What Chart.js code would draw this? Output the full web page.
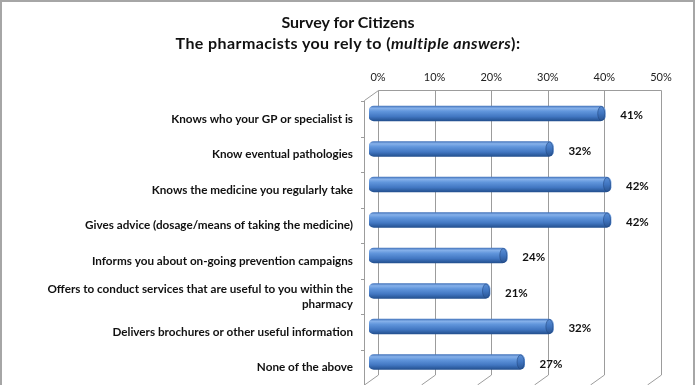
<!DOCTYPE html>
<html>
<head>
<meta charset="utf-8">
<script src="https://cdn.jsdelivr.net/npm/chart.js@4.4.0/dist/chart.umd.min.js"></script>
<style>
  html, body { margin: 0; padding: 0; background: #fff; }
  #wrap { position: relative; width: 696px; height: 385px; overflow: hidden; }
  #chart { position: absolute; left: 0; top: 0; }
  #title {
    position: absolute; left: 0; top: 12px; width: 696px; text-align: center;
    font-family: Lato, "Open Sans", sans-serif; font-weight: bold; font-size: 16px;
    line-height: 20.5px; color: #111;
  }
  #title .l2 { letter-spacing: 0.4px; }
</style>
</head>
<body>
<div id="wrap">
  <canvas id="chart" width="696" height="385"></canvas>
  <div id="title">Survey for Citizens<br><span class="l2">The pharmacists you rely to (<i>multiple answers</i>):</span></div>
</div>
<script>
// ---- data ----
const categories = [
  "Knows who your GP or specialist is",
  "Know eventual pathologies",
  "Knows the medicine you regularly take",
  "Gives advice (dosage/means of taking the medicine)",
  "Informs you about on-going prevention campaigns",
  ["Offers to conduct services that are useful to you within the", "pharmacy"],
  "Delivers brochures or other useful information",
  "None of the above"
];
const shares = [41, 32, 42, 42, 24, 21, 32, 27];
const xTicks = [0, 10, 20, 30, 40, 50];

// ---- style ----
const GRID = '#9c9c9c';
const DEPTH_X = 14, DEPTH_Y = 10;     // 3-D depth of back wall
const BAR_DX = -9, BAR_DY = -5.25, BAR_SCALE = 1.018;
const FONT = 'Lato, "Open Sans", sans-serif';

function barTransform(chart) {
  const a = chart.chartArea;
  return x => a.left + BAR_DX + (x - a.left) * BAR_SCALE;
}

const frame3d = {
  id: 'frame3d',
  beforeDatasetsDraw(chart) {
    const { ctx, chartArea: a, scales: { x, y } } = chart;
    ctx.save();
    ctx.strokeStyle = GRID;
    ctx.lineWidth = 1;
    const backTop = Math.round(a.top - DEPTH_Y - 1) + 0.5;
    const backBottom = a.bottom - DEPTH_Y;
    ctx.beginPath();
    xTicks.forEach(v => {
      const px = Math.round(x.getPixelForValue(v)) + 0.5;
      ctx.moveTo(px, backTop);
      ctx.lineTo(px, backBottom);
      ctx.lineTo(px - DEPTH_X, backBottom + DEPTH_Y);
    });
    const l = Math.round(x.getPixelForValue(xTicks[0])) + 0.5;
    const r = Math.round(x.getPixelForValue(xTicks[xTicks.length - 1])) + 0.5;
    ctx.moveTo(r, backTop);
    ctx.lineTo(l, backTop);
    const fx = l - DEPTH_X;
    ctx.lineTo(fx, backTop + DEPTH_Y);
    ctx.lineTo(fx, a.bottom + 2);
    const band = y.getPixelForValue(1) - y.getPixelForValue(0);
    for (let i = 0; i <= categories.length; i++) {
      const yb = Math.round(y.getPixelForValue(i) - band / 2) + 0.5;
      ctx.moveTo(fx - 3.5, yb);
      ctx.lineTo(fx, yb);
    }
    ctx.stroke();
    ctx.restore();

    // shift bars into the middle depth of the 3-D box
    ctx.save();
    ctx.translate(a.left + BAR_DX, BAR_DY);
    ctx.scale(BAR_SCALE, 1);
    ctx.translate(-a.left, 0);
  },
  afterDatasetsDraw(chart) {
    const { ctx } = chart;
    ctx.restore();
    const tx = barTransform(chart);
    const meta = chart.getDatasetMeta(0);
    ctx.save();
    meta.data.forEach((el, i) => {
      const ex = tx(el.x);
      const cy = el.y + BAR_DY;
      // cylinder end cap
      ctx.beginPath();
      ctx.ellipse(ex - 4, cy, 3.5, 7, 0, 0, Math.PI * 2);
      const g = ctx.createLinearGradient(0, cy - 7, 0, cy + 7);
      g.addColorStop(0, '#5b8fd6');
      g.addColorStop(0.5, '#3f74bf');
      g.addColorStop(1, '#2a5593');
      ctx.fillStyle = g;
      ctx.fill();
      ctx.strokeStyle = 'rgba(35,70,125,0.7)';
      ctx.lineWidth = 0.8;
      ctx.stroke();
      // value label
      ctx.fillStyle = '#111';
      ctx.font = 'bold 11.5px ' + FONT;
      ctx.textAlign = 'left';
      ctx.textBaseline = 'middle';
      ctx.fillText(shares[i] + '%', ex + 15, cy + 2);
    });
    ctx.restore();
  },
  afterDraw(chart) {
    const { ctx } = chart;
    ctx.save();
    ctx.strokeStyle = '#a6a6a6';
    ctx.lineWidth = 2;
    ctx.strokeRect(1, 1, 693, 400);
    ctx.restore();
  }
};

function barFill(context) {
  const chart = context.chart;
  const y = chart.scales && chart.scales.y;
  if (!y || context.dataIndex === undefined) return '#4a7fc8';
  const c = y.getPixelForValue(context.dataIndex);
  if (!isFinite(c)) return '#4a7fc8';
  const h = 7.5;
  const g = chart.ctx.createLinearGradient(0, c - h, 0, c + h);
  g.addColorStop(0, '#4676bd');
  g.addColorStop(0.15, '#86b1ea');
  g.addColorStop(0.35, '#6196dc');
  g.addColorStop(0.7, '#4277c2');
  g.addColorStop(1, '#23508f');
  return g;
}

new Chart(document.getElementById('chart'), {
  type: 'bar',
  data: {
    labels: categories,
    datasets: [{
      data: shares,
      backgroundColor: barFill,
      borderWidth: 0,
      borderSkipped: false,
      borderRadius: 5,
      barThickness: 15
    }]
  },
  options: {
    indexAxis: 'y',
    responsive: false,
    animation: false,
    devicePixelRatio: 1,
    layout: { padding: { left: 0, right: 35, top: 0, bottom: 0 } },
    plugins: { legend: { display: false }, tooltip: { enabled: false }, title: { display: false } },
    scales: {
      x: {
        position: 'top',
        min: 0, max: 50,
        afterBuildTicks(scale) { scale.ticks = xTicks.map(v => ({ value: v })); },
        afterFit(scale) { scale.height = 101; scale.paddingLeft = 0; scale.paddingRight = 0; },
        grid: { display: false },
        border: { display: false },
        ticks: {
          padding: 9,
          color: '#222',
          font: { family: FONT, size: 11 },
          callback: v => v + '%'
        }
      },
      y: {
        afterFit(scale) { scale.width = 378; scale.paddingTop = 0; scale.paddingBottom = 0; },
        grid: { display: false },
        border: { display: false },
        ticks: {
          padding: 17,
          color: '#111',
          font: { family: FONT, size: 11.7, weight: 'bold', lineHeight: 1.28 },
          autoSkip: false
        }
      }
    }
  },
  plugins: [frame3d]
});
</script>
</body>
</html>
